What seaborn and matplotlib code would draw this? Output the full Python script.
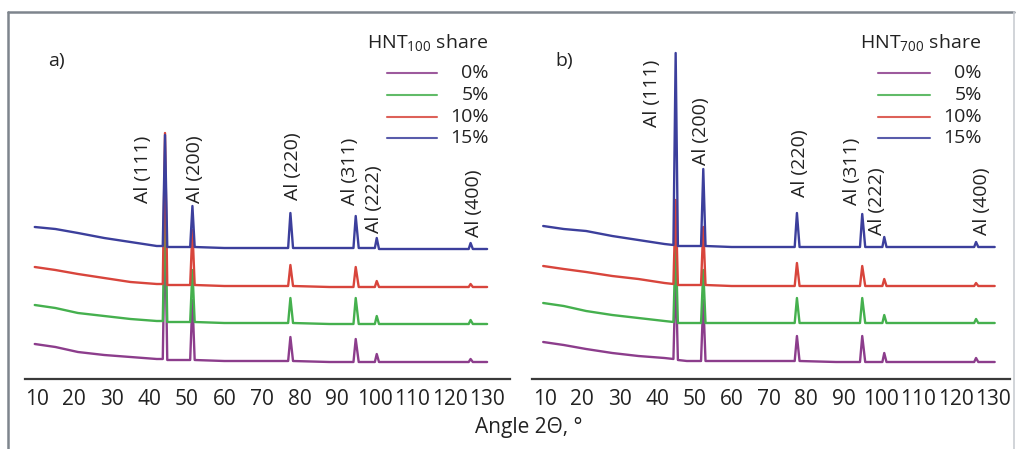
import numpy as np
import pandas as pd
import matplotlib
matplotlib.use("Agg")
import matplotlib.pyplot as plt
from matplotlib.lines import Line2D
import seaborn as sns

# ---------------- data ----------------
shares = ["0%", "5%", "10%", "15%"]
tick_values = [10, 20, 30, 40, 50, 60, 70, 80, 90, 100, 110, 120, 130]

# Diffraction angle grid (2-theta, degrees), panel a (HNT100)
angle_a = [9.5, 15, 21, 28, 35, 42, 43.6, 44.2, 44.8, 47, 50.9, 51.5, 52.1,
           60, 70, 77.0, 77.6, 78.3, 88, 94.4, 95.0, 95.8, 100.1, 100.6, 101.2,
           110, 120, 125.1, 125.6, 126.2, 130]
# Stacked intensities (a.u., vertically offset), panel a
int_a_0 = [35, 32, 27, 24, 22, 20, 20, 159, 19, 19, 19, 79, 19,
           18, 18, 18, 42, 18, 17, 17, 40, 17, 17, 25, 17,
           17, 17, 17, 20, 17, 17]
int_a_5 = [74, 71, 66, 63, 60, 58, 58, 179, 57, 57, 57, 109, 57,
           56, 56, 56, 81, 56, 55, 55, 81, 55, 55, 63, 55,
           55, 55, 55, 59, 55, 55]
int_a_10 = [112, 109, 105, 101, 97, 95, 95, 246, 94, 94, 94, 149, 94,
            93, 93, 93, 114, 93, 92, 92, 112, 92, 92, 98, 92,
            92, 92, 92, 95, 92, 92]
int_a_15 = [152, 150, 146, 141, 137, 133, 133, 244, 132, 132, 132, 173, 132,
            131, 131, 131, 166, 131, 131, 131, 163, 131, 131, 141, 130,
            130, 130, 130, 136, 130, 130]

# Diffraction angle grid, panel b (HNT700)
angle_b = [9.5, 15, 21, 28, 35, 42, 44.4, 45.0, 45.6, 48, 51.8, 52.4, 53.0,
           60, 70, 76.9, 77.5, 78.2, 88, 94.4, 95.0, 95.8, 100.4, 100.9, 101.5,
           110, 120, 125.0, 125.5, 126.1, 130.5]
int_b_0 = [37, 34, 30, 26, 23, 21, 20, 109, 19, 18, 18, 79, 18,
           18, 18, 18, 43, 18, 17, 17, 43, 17, 17, 26, 17,
           17, 17, 17, 21, 17, 17]
int_b_5 = [76, 73, 68, 64, 61, 58, 57, 139, 56, 56, 56, 109, 56,
           56, 56, 56, 81, 56, 56, 56, 81, 56, 56, 64, 56,
           56, 56, 56, 60, 56, 56]
int_b_10 = [113, 110, 107, 103, 100, 96, 95, 179, 94, 94, 94, 152, 94,
            93, 93, 93, 116, 93, 93, 93, 113, 93, 93, 100, 93,
            93, 93, 93, 96, 93, 93]
int_b_15 = [153, 150, 148, 143, 139, 135, 134, 326, 133, 133, 133, 210, 133,
            132, 132, 132, 166, 132, 132, 132, 165, 132, 132, 142, 132,
            132, 132, 132, 137, 132, 132]

# Reflection labels: (text, angle, intensity of label foot)
peaks_a = [("Al (111)", 38.3, 176), ("Al (200)", 52.1, 176), ("Al (220)", 78.2, 179),
           ("Al (311)", 93.4, 174), ("Al (222)", 100.0, 146), ("Al (400)", 126.4, 142)]
peaks_b = [("Al (111)", 38.7, 252), ("Al (200)", 51.8, 214), ("Al (220)", 78.3, 182),
           ("Al (311)", 92.3, 174), ("Al (222)", 99.0, 144), ("Al (400)", 127.0, 144)]

colors = {"0%": "#8c3d8c", "5%": "#45b04e", "10%": "#d8453c", "15%": "#3c3f9c"}

# ---------------- style ----------------
sns.set_style("white")
plt.rcParams["font.family"] = ["Open Sans", "DejaVu Sans"]
plt.rcParams["mathtext.default"] = "regular"
TXT = "#222222"

W, H = 1020, 449
fig = plt.figure(figsize=(W / 100, H / 100), dpi=100)


def fx(px):
    return px / W


def fy(py):
    return 1 - py / H


def long_frame(angle, series):
    rows = []
    for share, vals in zip(shares, series):
        rows.append(pd.DataFrame({"angle": angle, "intensity": vals, "share": share}))
    return pd.concat(rows, ignore_index=True)


df_a = long_frame(angle_a, [int_a_0, int_a_5, int_a_10, int_a_15])
df_b = long_frame(angle_b, [int_b_0, int_b_5, int_b_10, int_b_15])

panels = [
    dict(df=df_a, rect=(25, 510), xlim=(6.9, 136.1), peaks=peaks_a,
         tag="a)", tag_x=48, sub="100", leg_title_r=488, leg_line=(387, 437), leg_lab_r=489),
    dict(df=df_b, rect=(532, 1010), xlim=(6.5, 134.6), peaks=peaks_b,
         tag="b)", tag_x=555, sub="700", leg_title_r=981, leg_line=(878, 930), leg_lab_r=982),
]

axis_y = 379
top_y = 20
for p in panels:
    x0, x1 = p["rect"]
    ax = fig.add_axes([fx(x0), fy(axis_y), fx(x1 - x0), (axis_y - top_y) / H])
    sns.lineplot(data=p["df"], x="angle", y="intensity", hue="share",
                 hue_order=shares, palette=colors, sort=False, estimator=None,
                 linewidth=1.7, legend=False, ax=ax)
    ax.set_xlim(*p["xlim"])
    ax.set_ylim(0, axis_y - top_y)
    ax.set_xticks(tick_values)
    ax.set_yticks([])
    ax.set_xlabel("")
    ax.set_ylabel("")
    sns.despine(ax=ax, left=True, top=True, right=True)
    ax.spines["bottom"].set_color("#3a3a3a")
    ax.spines["bottom"].set_linewidth(1.6)
    ax.tick_params(axis="x", direction="inout", length=6, width=1.4,
                   color="#3a3a3a", labelsize=15, labelcolor=TXT, pad=4)
    ax.patch.set_alpha(0)

    for label, ang, yv in p["peaks"]:
        ax.text(ang, yv, label, rotation=90, ha="center", va="bottom",
                fontsize=14, color=TXT)

    # panel tag
    fig.text(fx(p["tag_x"]), fy(66), p["tag"], fontsize=14, color=TXT,
             ha="left", va="baseline")

    # legend block
    fig.text(fx(p["leg_title_r"]), fy(48), "HNT$_{%s}$ share" % p["sub"],
             fontsize=14, color=TXT, ha="right", va="baseline")
    for i, share in enumerate(shares):
        yy = [73, 95, 117, 138][i]
        fig.add_artist(Line2D([fx(p["leg_line"][0]), fx(p["leg_line"][1])],
                              [fy(yy), fy(yy)], color=colors[share], lw=1.5,
                              alpha=0.85))
        fig.text(fx(p["leg_lab_r"]), fy(yy), share, fontsize=14, color=TXT,
                 ha="right", va="center")

# shared x-axis title
fig.text(fx(529), fy(428), "Angle 2\u0398, \u00b0", fontsize=15, color=TXT,
         ha="center", va="center")

# outer frame
frame = "#7e858d"
fig.add_artist(Line2D([fx(8), fx(1014)], [fy(12), fy(12)], color=frame, lw=1.8))
fig.add_artist(Line2D([fx(8), fx(8)], [fy(12), 0], color=frame, lw=1.8))
fig.add_artist(Line2D([fx(1014), fx(1014)], [fy(12), 0], color="#c9cdd2", lw=1.2))

fig.savefig("out.png", dpi=100)
